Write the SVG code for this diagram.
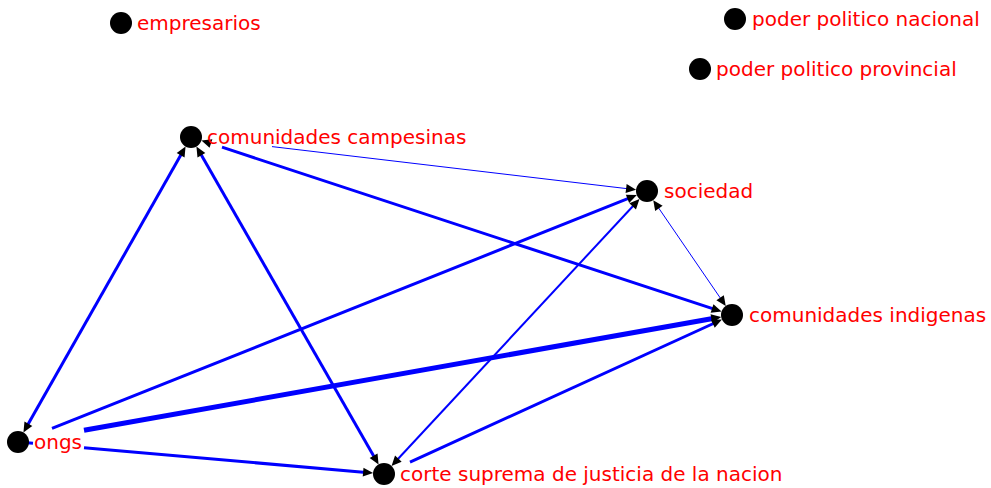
<svg xmlns="http://www.w3.org/2000/svg" width="991" height="488" viewBox="0 0 991 488">
<style>
.e{fill:none;stroke:#0000FF;stroke-linecap:butt}
.a{marker-end:url(#ah)}
.b{marker-start:url(#ah);marker-end:url(#ah)}
.n circle{fill:#000}
.n text{font-family:"DejaVu Sans","Liberation Sans",sans-serif;font-size:20px;fill:#FF0000}
</style>
<defs>
<marker id="ah" markerUnits="userSpaceOnUse" markerWidth="11" markerHeight="9" viewBox="0 0 11 9" refX="3" refY="4.5" orient="auto-start-reverse" overflow="visible">
<path d="M0,0 L10,4.5 L0,9 z" fill="#000"/>
</marker>
</defs>
<rect width="991" height="488" fill="#fff"/>
<g id="connectors">
<path class="e b" stroke-width="3" d="M182.1,152.7 L26.9,426.3"/>
<path class="e b" stroke-width="3" d="M199.9,152.6 L375.1,458.4"/>
<path class="e a" stroke-width="1" d="M272,146.6 L629.1,188.9"/>
<path class="e b" stroke-width="3" d="M208.1,142.6 L209.05,142.91 M222,147.2 L714.9,309.4"/>
<path class="e b" stroke-width="1" d="M657.2,205.9 L721.8,300.2"/>
<path class="e a" stroke-width="3" d="M52,428.4 L630.3,197.7"/>
<path class="e a" stroke-width="5" d="M84,430.3 L714.3,318.2"/>
<path class="e" stroke-width="3" d="M27,442.8 L33,443.3"/>
<path class="e a" stroke-width="3" d="M84,447.8 L366.1,472.4"/>
<path class="e b" stroke-width="2" d="M396.3,460.8 L634.7,204.2"/>
<path class="e a" stroke-width="3" d="M410,462.1 L715.6,322.5"/>
</g>
<g id="empresarios" class="n"><circle cx="121" cy="23" r="11"/><text x="137" y="30">empresarios</text></g>
<g id="poder-politico-nacional" class="n"><circle cx="735" cy="19" r="11"/><text x="752" y="26">poder politico nacional</text></g>
<g id="poder-politico-provincial" class="n"><circle cx="700" cy="69" r="11"/><text x="716" y="76">poder politico provincial</text></g>
<g id="comunidades-campesinas" class="n"><circle cx="191" cy="137" r="11"/><text x="207" y="144">comunidades campesinas</text></g>
<g id="sociedad" class="n"><circle cx="647" cy="191" r="11"/><text x="664" y="198">sociedad</text></g>
<g id="comunidades-indigenas" class="n"><circle cx="732" cy="315" r="11"/><text x="749" y="322">comunidades indigenas</text></g>
<g id="ongs" class="n"><circle cx="18" cy="442" r="11"/><text x="34" y="449">ongs</text></g>
<g id="corte-suprema" class="n"><circle cx="384" cy="474" r="11"/><text x="400" y="481">corte suprema de justicia de la nacion</text></g>
</svg>
